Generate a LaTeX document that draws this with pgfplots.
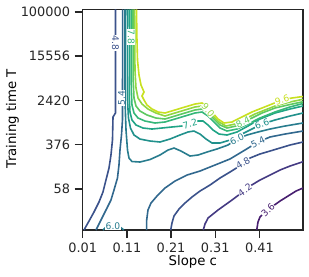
\documentclass[border=0pt]{standalone}
\usepackage{fontspec}
\setmainfont{DejaVu Sans}
\usepackage{pgfplots}
\pgfplotsset{compat=1.18}
\definecolor{c36}{HTML}{481F70}
\definecolor{c42}{HTML}{443A83}
\definecolor{c48}{HTML}{3B528B}
\definecolor{c54}{HTML}{31688E}
\definecolor{c60}{HTML}{287C8E}
\definecolor{c66}{HTML}{21918C}
\definecolor{c72}{HTML}{20A486}
\definecolor{c78}{HTML}{35B779}
\definecolor{c84}{HTML}{5EC962}
\definecolor{c90}{HTML}{90D743}
\definecolor{c96}{HTML}{C8E020}
\definecolor{ink}{HTML}{262626}
\begin{document}
\begin{tikzpicture}
\begin{axis}[
  scale only axis, width=165.2bp, height=165.4bp,
  xmin=0.01, xmax=0.5084, ymin=0.07, ymax=5.053,
  xtick={0.01,0.11,0.21,0.31,0.41}, xticklabels={0.01,0.11,0.21,0.31,0.41},
  ytick={1,2,3,4,5}, yticklabels={58,376,2420,15556,100000},
  tick pos=left, tick align=outside, major tick length=6bp,
  tick style={line width=1.1bp, color=ink},
  axis line style={line width=1.1bp, color=ink},
  tick label style={font=\fontsize{9.7}{11}\selectfont, text=ink},
  label style={font=\fontsize{10.5}{12}\selectfont, text=ink},
  xlabel={Slope c}, ylabel={Training time T},
  every axis x label/.style={at={(axis description cs:0.5,-0.145)}, anchor=center},
  every axis y label/.style={at={(axis description cs:-0.319,0.505)}, anchor=center, rotate=90},
  every axis plot/.append style={line width=1.2bp, no markers},
  clip=true,
]
% 3.6
\addplot[c36] coordinates {(0.4037,0.07) (0.4066,0.251) (0.4111,0.364) (0.4202,0.454) (0.4292,0.522) (0.4405,0.612) (0.4564,0.725) (0.4745,0.838) (0.4926,0.951) (0.5084,1.019)};
% 4.2
\addplot[c42] coordinates {(0.2828,0.07) (0.2867,0.206) (0.2935,0.341) (0.3048,0.432) (0.3161,0.522) (0.3319,0.635) (0.3478,0.748) (0.3659,0.884) (0.3885,1.064) (0.4111,1.200) (0.4338,1.313) (0.4564,1.426) (0.4790,1.516) (0.5084,1.614)};
% 4.8 right
\addplot[c48] coordinates {(0.2091,0.07) (0.2120,0.228) (0.2165,0.386) (0.2279,0.545) (0.2414,0.680) (0.2573,0.816) (0.2754,0.951) (0.2980,1.087) (0.3206,1.245) (0.3433,1.381) (0.3614,1.494) (0.3727,1.584) (0.3885,1.697) (0.4111,1.788) (0.4338,1.855) (0.4564,1.923) (0.4790,1.991) (0.5084,2.059)};
% 4.8 left
\addplot[c48] coordinates {(0.0842,5.053) (0.0842,2.714) (0.0786,2.624) (0.0774,2.104) (0.0740,1.765) (0.0695,1.471) (0.0627,1.200) (0.0559,0.929) (0.0469,0.703) (0.0356,0.477) (0.0243,0.273) (0.0129,0.07)};
% 5.4 left
\addplot[c54] coordinates {(0.1005,5.053) (0.1000,2.556) (0.0978,2.217) (0.0944,1.878) (0.0921,1.539) (0.0887,1.245) (0.0808,0.974) (0.0740,0.748) (0.0650,0.567) (0.0559,0.386) (0.0469,0.206) (0.0401,0.07)};
% 5.4 right
\addplot[c54] coordinates {(0.1548,0.07) (0.1548,0.296) (0.1577,0.522) (0.1645,0.680) (0.1781,0.838) (0.1962,1.019) (0.2188,1.177) (0.2460,1.313) (0.2754,1.403) (0.3093,1.539) (0.3433,1.675) (0.3772,1.878) (0.4066,2.059) (0.4338,2.172) (0.4677,2.239) (0.5084,2.307)};
% 6.0 small
\addplot[c60] coordinates {(0.0559,0.07) (0.0627,0.138) (0.0786,0.160) (0.0944,0.138) (0.1034,0.07)};
% 6.0 main
\addplot[c60] coordinates {(0.1057,5.053) (0.1057,3.008) (0.1080,2.330) (0.1114,1.878) (0.1147,1.697) (0.1215,1.618) (0.1396,1.607) (0.1623,1.663) (0.1849,1.765) (0.2030,1.878) (0.2166,1.923) (0.2324,1.855) (0.2528,1.742) (0.2709,1.765) (0.2913,1.833) (0.3139,1.901) (0.3388,1.991) (0.3591,2.126) (0.3818,2.217) (0.4066,2.285) (0.4338,2.352) (0.4677,2.420) (0.5084,2.488)};
% 6.6
\addplot[c66] coordinates {(0.1109,5.053) (0.1114,3.008) (0.1136,2.601) (0.1181,2.375) (0.1261,2.217) (0.1396,2.126) (0.1623,2.081) (0.1849,2.059) (0.2075,2.126) (0.2301,2.217) (0.2482,2.285) (0.2618,2.307) (0.2754,2.239) (0.2890,2.126) (0.3025,2.036) (0.3206,2.036) (0.3433,2.104) (0.3659,2.217) (0.3885,2.330) (0.4157,2.465) (0.4451,2.556) (0.4790,2.646) (0.5084,2.714)};
% 7.2
\addplot[c72] coordinates {(0.1154,5.053) (0.1157,3.008) (0.1170,2.737) (0.1215,2.556) (0.1306,2.443) (0.1464,2.375) (0.1668,2.352) (0.1894,2.375) (0.2120,2.398) (0.2347,2.420) (0.2528,2.465) (0.2709,2.533) (0.2822,2.533) (0.2935,2.443) (0.3048,2.330) (0.3184,2.239) (0.3365,2.217) (0.3591,2.285) (0.3840,2.420) (0.4111,2.578) (0.4451,2.714) (0.4790,2.804) (0.5084,2.872)};
% 7.8
\addplot[c78] coordinates {(0.1197,5.053) (0.1200,3.234) (0.1215,2.895) (0.1261,2.714) (0.1351,2.601) (0.1510,2.533) (0.1736,2.488) (0.1962,2.511) (0.2188,2.578) (0.2414,2.646) (0.2641,2.714) (0.2799,2.737) (0.2935,2.646) (0.3070,2.511) (0.3206,2.375) (0.3365,2.307) (0.3591,2.352) (0.3840,2.465) (0.4111,2.601) (0.4451,2.737) (0.4790,2.850) (0.5084,2.929)};
% 8.4
\addplot[c84] coordinates {(0.1238,5.053) (0.1243,3.460) (0.1261,3.053) (0.1306,2.872) (0.1396,2.759) (0.1555,2.669) (0.1758,2.601) (0.1962,2.578) (0.2188,2.646) (0.2414,2.714) (0.2641,2.782) (0.2799,2.804) (0.2935,2.714) (0.3070,2.578) (0.3206,2.443) (0.3365,2.375) (0.3569,2.420) (0.3727,2.511) (0.3930,2.601) (0.4157,2.714) (0.4451,2.827) (0.4790,2.906) (0.5084,2.969)};
% 9.0
\addplot[c90] coordinates {(0.1276,5.053) (0.1283,3.686) (0.1306,3.279) (0.1351,3.053) (0.1442,2.917) (0.1577,2.804) (0.1758,2.714) (0.1962,2.646) (0.2188,2.714) (0.2414,2.782) (0.2641,2.850) (0.2799,2.872) (0.2935,2.782) (0.3048,2.646) (0.3184,2.511) (0.3342,2.420) (0.3546,2.465) (0.3772,2.578) (0.3998,2.692) (0.4225,2.782) (0.4451,2.872) (0.4790,2.963) (0.5084,3.024)};
% 9.6
\addplot[c96] coordinates {(0.1317,5.053) (0.1328,4.364) (0.1340,3.912) (0.1374,3.573) (0.1419,3.347) (0.1487,3.189) (0.1442,3.098) (0.1487,3.008) (0.1555,2.895) (0.1668,2.804) (0.1804,2.737) (0.1962,2.714) (0.2188,2.782) (0.2414,2.850) (0.2641,2.917) (0.2799,2.940) (0.2912,2.872) (0.3025,2.737) (0.3161,2.578) (0.3297,2.488) (0.3478,2.511) (0.3704,2.624) (0.3930,2.737) (0.4157,2.827) (0.4383,2.917) (0.4609,3.008) (0.4836,3.053) (0.5084,3.087)};
% inline labels
\tikzset{cl/.style={font=\fontsize{6.9}{7}\selectfont, fill=white, inner sep=0.3pt}}
\node[cl, text=c48, rotate=-90] at (axis cs:0.0842,4.296) {4.8};
\node[cl, text=c54, rotate=90] at (axis cs:0.0978,3.053) {5.4};
\node[cl, text=c78, rotate=-90] at (axis cs:0.1197,4.432) {7.8};
\node[cl, text=c60] at (axis cs:0.0786,0.150) {6.0};
\node[cl, text=c96, rotate=17] at (axis cs:0.4609,3.008) {9.6};
\node[cl, text=c90, rotate=-50] at (axis cs:0.2935,2.782) {9.0};
\node[cl, text=c84, rotate=25] at (axis cs:0.3727,2.511) {8.4};
\node[cl, text=c72, rotate=15] at (axis cs:0.2528,2.465) {7.2};
\node[cl, text=c66, rotate=18] at (axis cs:0.4157,2.465) {6.6};
\node[cl, text=c60, rotate=25] at (axis cs:0.3591,2.126) {6.0};
\node[cl, text=c54, rotate=25] at (axis cs:0.4066,2.059) {5.4};
\node[cl, text=c48, rotate=30] at (axis cs:0.3727,1.584) {4.8};
\node[cl, text=c42, rotate=35] at (axis cs:0.3772,0.974) {4.2};
\node[cl, text=c36, rotate=45] at (axis cs:0.4292,0.522) {3.6};
\end{axis}
\pgfresetboundingbox
\path[use as bounding box] ([shift={(-62bp,-34.5bp)}]current axis.south west) rectangle ([shift={(4.5bp,7.1bp)}]current axis.north east);
\end{tikzpicture}
\end{document}
